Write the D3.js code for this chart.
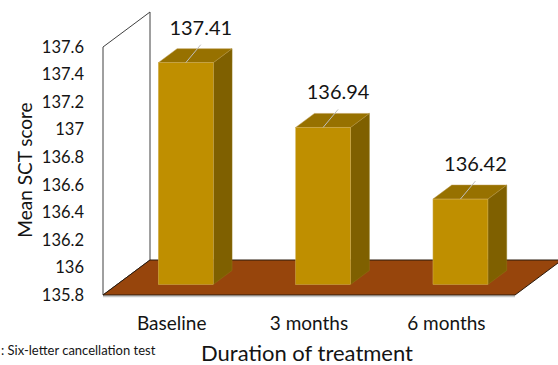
<!DOCTYPE html>
<html>
<head>
<meta charset="utf-8">
<script src="https://cdn.jsdelivr.net/npm/d3@7/dist/d3.min.js"></script>
<style>
  html, body { margin: 0; padding: 0; background: #fff; }
  svg { display: block; font-family: Lato, "Open Sans", sans-serif; }
</style>
</head>
<body>
<svg id="chart" width="558" height="365"></svg>
<script>
// Mean SCT score by duration of treatment
const categories = ["Baseline", "3 months", "6 months"];
const meanScores = [137.41, 136.94, 136.42];
const tickValues = [135.8, 136, 136.2, 136.4, 136.6, 136.8, 137, 137.2, 137.4, 137.6];

(function () {
const svg = d3.select("#chart");
const ink = "#141414";

// front plane of the 3D box
const plotLeft = 103, plotRight = 515, plotBottom = 295, plotTop = 47;
// perspective offset for full depth of the box
const depthX = 47, depthY = -35;
// bars sit between 30% and 70% of the depth
const d0 = 0.3, d1 = 0.7;

const y = d3.scaleLinear().domain([135.8, 137.6]).range([plotBottom, plotTop]);
const x = d3.scaleBand().domain(categories).range([plotLeft, plotRight]);
const barW = x.bandwidth() * 0.4;

const pts = p => p.map(q => q.join(",")).join(" ");

// back/side wall
svg.append("polygon")
  .attr("points", pts([
    [plotLeft, y(137.6)], [plotLeft + depthX, y(137.6) + depthY],
    [plotLeft + depthX, plotBottom + depthY], [plotLeft, plotBottom]
  ]))
  .attr("fill", "#fff").attr("stroke", "#404040").attr("stroke-width", 1);

// floor
svg.append("line")
  .attr("x1", plotLeft).attr("x2", plotRight).attr("y1", plotBottom + 1.5).attr("y2", plotBottom + 1.5)
  .attr("stroke", "#c8c8c8").attr("stroke-width", 1.5);
svg.append("polygon")
  .attr("points", pts([
    [plotLeft, plotBottom], [plotLeft + depthX, plotBottom + depthY],
    [plotRight + depthX, plotBottom + depthY], [plotRight, plotBottom]
  ]))
  .attr("fill", "#97450c").attr("stroke", "#2b1a0c").attr("stroke-width", 1);

// y axis tick labels
svg.append("g").selectAll("text")
  .data(tickValues).join("text")
  .attr("x", 84).attr("y", d => y(d))
  .attr("dy", "0.35em").attr("text-anchor", "end")
  .attr("font-size", 16.5).attr("fill", ink)
  .text(d => String(+d.toFixed(1)));

// bars
const bars = svg.append("g").selectAll("g")
  .data(categories.map((c, i) => ({ c, v: meanScores[i] })))
  .join("g");

bars.each(function (d) {
  const g = d3.select(this);
  const fx = x(d.c) + (x.bandwidth() - barW) / 2 + depthX * d0;
  const fTop = y(d.v) + depthY * d0;
  const fBot = y(135.8) + depthY * d0;
  const ox = depthX * (d1 - d0), oy = depthY * (d1 - d0);
  // side face
  g.append("polygon")
    .attr("points", pts([[fx + barW, fTop], [fx + barW + ox, fTop + oy],
                         [fx + barW + ox, fBot + oy], [fx + barW, fBot]]))
    .attr("fill", "#7f6000").attr("stroke", "#8f7416").attr("stroke-width", 0.5);
  // top face
  g.append("polygon")
    .attr("points", pts([[fx, fTop], [fx + ox, fTop + oy],
                         [fx + barW + ox, fTop + oy], [fx + barW, fTop]]))
    .attr("fill", "#977100").attr("stroke", "#b8974a").attr("stroke-width", 0.5);
  // front face
  g.append("rect")
    .attr("x", fx).attr("y", fTop).attr("width", barW).attr("height", fBot - fTop)
    .attr("fill", "#bf8f00").attr("stroke", "#d4b25a").attr("stroke-width", 0.5);

  // leader line and value label
  const cx = fx + barW / 2;
  g.append("line")
    .attr("x1", cx).attr("y1", fTop).attr("x2", cx + 15).attr("y2", fTop - 18)
    .attr("stroke", "#bfbfbf").attr("stroke-width", 1);
  g.append("text")
    .attr("x", cx + 15).attr("y", fTop - 28)
    .attr("text-anchor", "middle").attr("font-size", 20).attr("fill", ink)
    .text(d3.format(".2f")(d.v));
});

// category labels
svg.append("g").selectAll("text")
  .data(categories).join("text")
  .attr("x", d => x(d) + x.bandwidth() / 2).attr("y", 330)
  .attr("text-anchor", "middle").attr("font-size", 19).attr("fill", ink)
  .text(d => d);

// axis titles
svg.append("text")
  .attr("transform", "translate(32,170) rotate(-90)")
  .attr("text-anchor", "middle").attr("font-size", 19).attr("fill", ink)
  .text("Mean SCT score");
svg.append("text")
  .attr("x", 307).attr("y", 361)
  .attr("text-anchor", "middle").attr("font-size", 22).attr("fill", ink)
  .text("Duration of treatment");

// footnote
svg.append("text")
  .attr("x", 1).attr("y", 355)
  .attr("font-size", 13).attr("fill", ink)
  .text(": Six-letter cancellation test");
})();
</script>
</body>
</html>
